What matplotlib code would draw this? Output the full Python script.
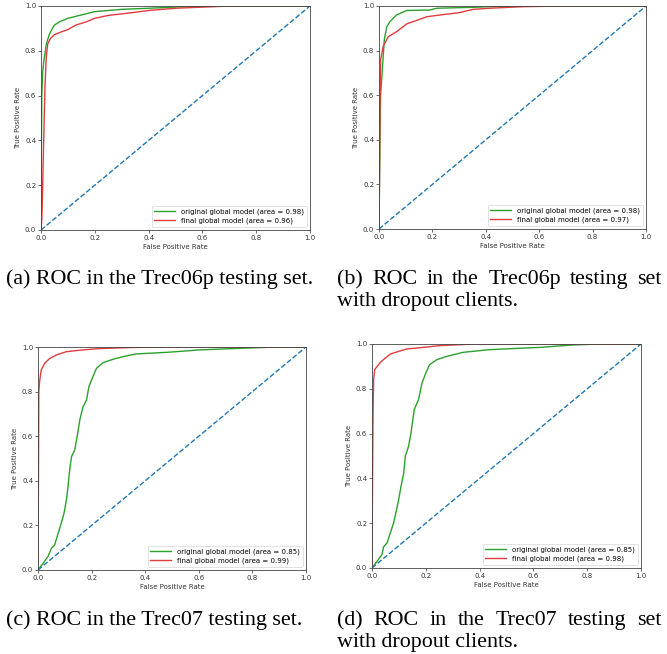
import matplotlib
matplotlib.use("Agg")
import matplotlib.pyplot as plt
import numpy as np

# ---- data ----
# (a) Trec06p
a_orig_fpr = [0, 0.001, 0.003, 0.006, 0.01, 0.02, 0.03, 0.04, 0.05, 0.07, 0.1, 0.15, 0.2, 0.3, 0.4, 0.55, 1.0]
a_orig_tpr = [0, 0.30, 0.60, 0.70, 0.75, 0.83, 0.87, 0.895, 0.915, 0.93, 0.945, 0.96, 0.975, 0.985, 0.99, 0.998, 1.0]
a_final_fpr = [0, 0.003, 0.005, 0.008, 0.011, 0.015, 0.02, 0.025, 0.035, 0.05, 0.07, 0.1, 0.13, 0.17, 0.2, 0.25, 0.3, 0.35, 0.4, 0.5, 0.6, 0.7, 1.0]
a_final_tpr = [0, 0.05, 0.13, 0.30, 0.45, 0.65, 0.78, 0.83, 0.855, 0.872, 0.882, 0.895, 0.915, 0.93, 0.945, 0.958, 0.965, 0.972, 0.98, 0.99, 0.995, 1.0, 1.0]

# (b) Trec06p with dropout clients
b_orig_fpr = [0, 0.004, 0.006, 0.01, 0.02, 0.029, 0.041, 0.066, 0.104, 0.19, 0.216, 0.35, 0.48, 1.0]
b_orig_tpr = [0, 0.45, 0.60, 0.67, 0.85, 0.907, 0.93, 0.96, 0.98, 0.982, 0.99, 0.994, 1.0, 1.0]
b_final_fpr = [0, 0.002, 0.004, 0.006, 0.016, 0.035, 0.066, 0.104, 0.14, 0.18, 0.23, 0.30, 0.353, 0.415, 0.54, 0.7, 1.0]
b_final_tpr = [0, 0.25, 0.58, 0.76, 0.82, 0.863, 0.885, 0.92, 0.935, 0.952, 0.96, 0.97, 0.985, 0.99, 0.997, 1.0, 1.0]

# (c) Trec07
c_orig_fpr = [0, 0.019, 0.037, 0.05, 0.062, 0.075, 0.087, 0.097, 0.106, 0.112, 0.118, 0.125, 0.137, 0.146, 0.156,
              0.168, 0.181, 0.19, 0.205, 0.218, 0.243, 0.28, 0.318, 0.367, 0.48, 0.604, 0.73, 0.89, 1.0]
c_orig_tpr = [0, 0.03, 0.06, 0.097, 0.112, 0.164, 0.21, 0.254, 0.314, 0.374, 0.448, 0.508, 0.538, 0.598, 0.673,
              0.732, 0.762, 0.822, 0.867, 0.904, 0.93, 0.945, 0.957, 0.969, 0.976, 0.987, 0.993, 1.0, 1.0]
c_final_fpr = [0, 0.002, 0.003, 0.006, 0.012, 0.025, 0.044, 0.068, 0.106, 0.168, 0.23, 0.355, 0.5, 1.0]
c_final_tpr = [0, 0.5, 0.8, 0.845, 0.897, 0.927, 0.949, 0.964, 0.979, 0.987, 0.993, 0.998, 1.0, 1.0]

# (d) Trec07 with dropout clients
d_orig_fpr = [0, 0.019, 0.037, 0.043, 0.056, 0.068, 0.08, 0.09, 0.099, 0.108, 0.118, 0.124, 0.136, 0.145, 0.157,
              0.173, 0.186, 0.2, 0.214, 0.241, 0.278, 0.34, 0.44, 0.625, 0.75, 0.85, 1.0]
d_orig_tpr = [0, 0.03, 0.06, 0.094, 0.112, 0.156, 0.2, 0.253, 0.305, 0.365, 0.424, 0.5, 0.543, 0.603, 0.707,
              0.752, 0.826, 0.87, 0.908, 0.93, 0.945, 0.963, 0.975, 0.985, 0.996, 1.0, 1.0]
d_final_fpr = [0, 0.002, 0.004, 0.006, 0.01, 0.019, 0.031, 0.05, 0.068, 0.099, 0.13, 0.192, 0.254, 0.38, 1.0]
d_final_tpr = [0, 0.4, 0.7, 0.84, 0.885, 0.9, 0.918, 0.9375, 0.955, 0.967, 0.978, 0.985, 0.993, 1.0, 1.0]

panels = [
    (a_orig_fpr, a_orig_tpr, 0.98, a_final_fpr, a_final_tpr, 0.96),
    (b_orig_fpr, b_orig_tpr, 0.98, b_final_fpr, b_final_tpr, 0.97),
    (c_orig_fpr, c_orig_tpr, 0.85, c_final_fpr, c_final_tpr, 0.99),
    (d_orig_fpr, d_orig_tpr, 0.85, d_final_fpr, d_final_tpr, 0.98),
]
captions = [
    ["(a) ROC in the Trec06p testing set."],
    ["(b) ROC in the Trec06p testing set", "with dropout clients."],
    ["(c) ROC in the Trec07 testing set."],
    ["(d) ROC in the Trec07 testing set", "with dropout clients."],
]

W, H = 667, 654
fig = plt.figure(figsize=(W / 100, H / 100), dpi=100)

# axes boxes in pixels: left, top, right, bottom
boxes = [(41, 6, 310, 230), (379, 6, 646, 229), (38, 347, 306, 570), (372, 344, 641, 568)]
fs = 5.0

for (of, ot, oa, ff, ft, fa), (l, t, r, b) in zip(panels, boxes):
    ax = fig.add_axes([l / W, 1 - b / H, (r - l) / W, (b - t) / H])
    ax.plot(of, ot, color='#2ca02c', lw=1.0, label='original global model (area = %0.2f)' % oa)
    ax.plot(ff, ft, color='#e03c3c', lw=1.0, label='final global model (area = %0.2f)' % fa)
    ax.plot([0, 1], [0, 1], color='#1f77b4', lw=1.0, linestyle='--')
    ax.set_xlim(0, 1)
    ax.set_ylim(0, 1)
    ax.set_xticks(np.arange(0, 1.01, 0.2))
    ax.set_yticks(np.arange(0, 1.01, 0.2))
    ax.tick_params(labelsize=fs, length=2, width=0.5, pad=1.5, colors='#333333')
    for s in ax.spines.values():
        s.set_linewidth(0.6)
        s.set_color('#444444')
    ax.set_xlabel('False Positive Rate', fontsize=fs, labelpad=2, color='#333333')
    ax.set_ylabel('True Positive Rate', fontsize=fs, labelpad=3, color='#333333')
    leg = ax.legend(loc='lower right', fontsize=fs, handlelength=3.0, borderpad=0.4, labelspacing=0.3)
    leg.get_frame().set_linewidth(0.5)

# captions, Times-like serif; two-line captions are justified on the first line
cap_font = dict(family='Liberation Serif', fontsize=15.8, color='black')
renderer = fig.canvas.get_renderer()


def justified(x0, x1, y, text):
    words = text.split()
    objs = [fig.text(0, 1 - y / H, w, va='baseline', ha='left', **cap_font) for w in words]
    widths = [o.get_window_extent(renderer).width for o in objs]
    gap = ((x1 - x0) - sum(widths)) / (len(words) - 1)
    x = x0
    for o, w in zip(objs, widths):
        o.set_x(x / W)
        x += w + gap


cap_pos = [(6, 284), (337, 284), (6, 625), (337, 625)]
for lines, (x0, y0) in zip(captions, cap_pos):
    if len(lines) == 1:
        fig.text(x0 / W, 1 - y0 / H, lines[0], va='baseline', ha='left', **cap_font)
    else:
        justified(x0, 662, y0, lines[0])
        fig.text(x0 / W, 1 - (y0 + 22) / H, lines[1], va='baseline', ha='left', **cap_font)

fig.savefig('out.png', dpi=100)
